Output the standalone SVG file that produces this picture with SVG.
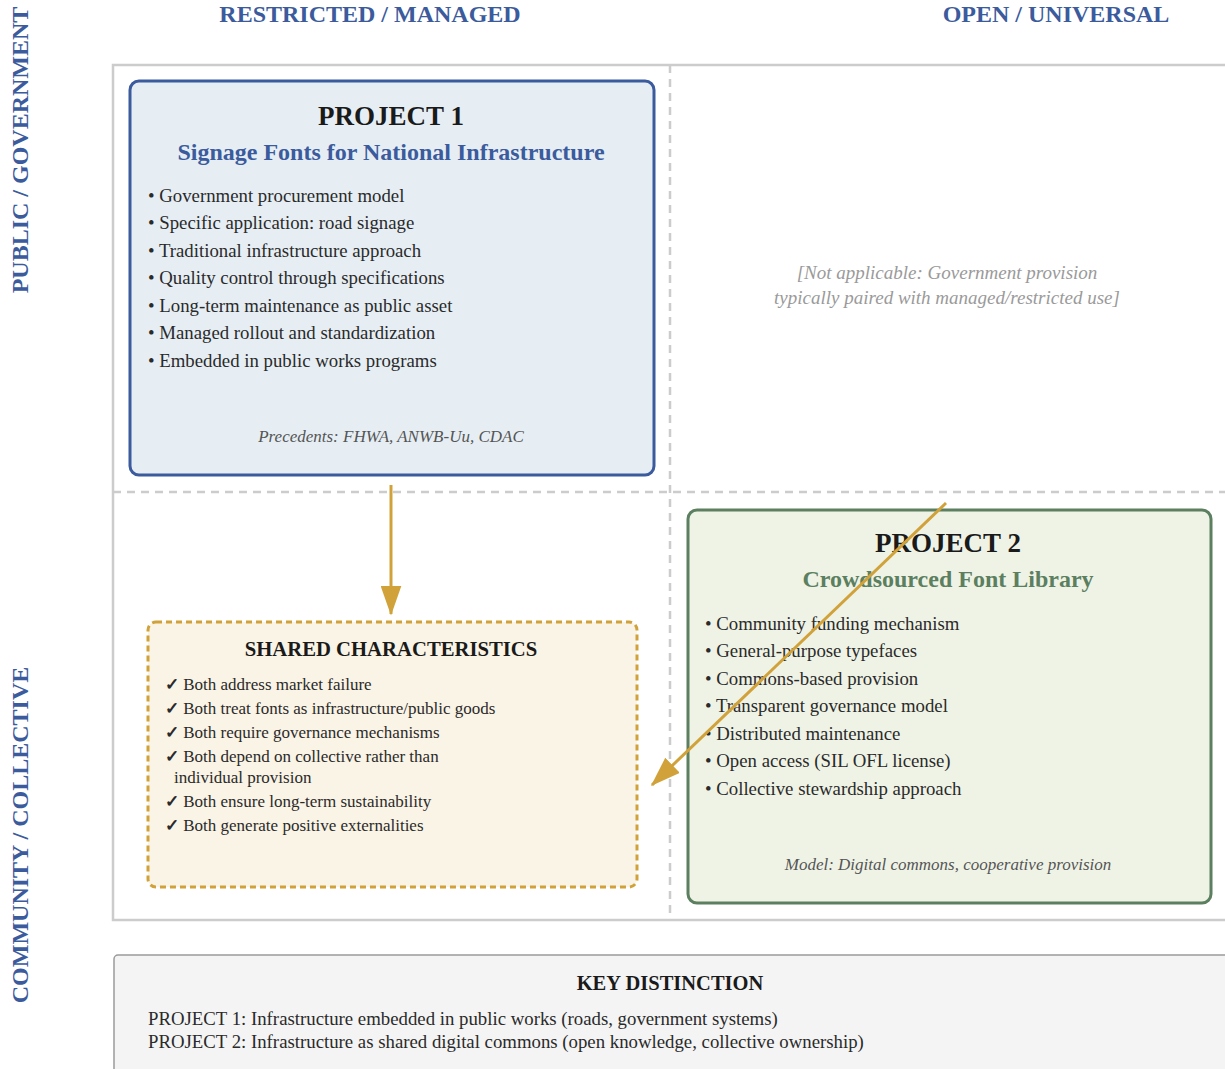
<svg xmlns="http://www.w3.org/2000/svg" width="1225" height="1069" viewBox="0 0 1225 1069">
<style>
text{font-family:"Liberation Serif","Times New Roman",serif}
.axis{font-size:24px;font-weight:bold;fill:#3b5b9d}
.title{font-size:27px;font-weight:bold;fill:#1a1a1a;text-anchor:middle}
.sub1{font-size:24px;font-weight:bold;fill:#3b5b9d;text-anchor:middle}
.sub2{font-size:24px;font-weight:bold;fill:#5b7f5f;text-anchor:middle}
.item{font-size:18.8px;fill:#2a2a2a}
.note{font-size:17px;font-style:italic;fill:#555;text-anchor:middle}
.na{font-size:19px;font-style:italic;fill:#9a9a9a;text-anchor:middle}
.chk{font-size:17px;fill:#2a2a2a}
.mk{font-weight:bold}
.grid{stroke:#cccccc;stroke-width:2.5;stroke-dasharray:8 6;fill:none}
.conn{stroke:#d1a23a;stroke-width:3;fill:none}
</style>
<defs>
<marker id="ah" viewBox="0 0 10 7" refX="9.5" refY="3.5" markerWidth="10" markerHeight="7" markerUnits="strokeWidth" orient="auto">
<path d="M0,0 L10,3.5 L0,7 Z" fill="#d1a23a"/>
</marker>
</defs>
<rect width="1225" height="1069" fill="#ffffff"/>
<g id="axes">
<text class="axis" x="370" y="22" text-anchor="middle">RESTRICTED / MANAGED</text>
<text class="axis" x="1056" y="22" text-anchor="middle">OPEN / UNIVERSAL</text>
<text class="axis" transform="translate(28,150) rotate(-90)" text-anchor="middle">PUBLIC / GOVERNMENT</text>
<text class="axis" transform="translate(28,835) rotate(-90)" text-anchor="middle">COMMUNITY / COLLECTIVE</text>
</g>
<g id="frame">
<rect x="113" y="65" width="1130" height="855" fill="none" stroke="#cccccc" stroke-width="2.5"/>
<line class="grid" x1="670" y1="65" x2="670" y2="920"/>
<line class="grid" x1="113" y1="492" x2="1225" y2="492"/>
</g>
<g id="project1">
<rect x="130" y="81" width="524" height="394" rx="9" fill="#e6eef4" stroke="#3b5b9d" stroke-width="3"/>
<text class="title" x="391" y="125">PROJECT 1</text>
<text class="sub1" x="391" y="160">Signage Fonts for National Infrastructure</text>
<text class="item" x="148" y="202">• Government procurement model</text>
<text class="item" x="148" y="229">• Specific application: road signage</text>
<text class="item" x="148" y="257">• Traditional infrastructure approach</text>
<text class="item" x="148" y="284">• Quality control through specifications</text>
<text class="item" x="148" y="312">• Long-term maintenance as public asset</text>
<text class="item" x="148" y="339">• Managed rollout and standardization</text>
<text class="item" x="148" y="367">• Embedded in public works programs</text>
<text class="note" x="391" y="442">Precedents: FHWA, ANWB-Uu, CDAC</text>
</g>
<g id="not-applicable">
<text class="na" x="947" y="279">[Not applicable: Government provision</text>
<text class="na" x="947" y="304">typically paired with managed/restricted use]</text>
</g>
<g id="shared">
<rect x="148" y="622" width="489" height="265" rx="8" fill="#faf4e6" stroke="#d1a23a" stroke-width="3" stroke-dasharray="6 4"/>
<text x="391" y="656" text-anchor="middle" style="font-size:20.7px;font-weight:bold;fill:#1a1a1a">SHARED CHARACTERISTICS</text>
<text class="chk" x="165" y="690"><tspan class="mk">✓</tspan> Both address market failure</text>
<text class="chk" x="165" y="714"><tspan class="mk">✓</tspan> Both treat fonts as infrastructure/public goods</text>
<text class="chk" x="165" y="738"><tspan class="mk">✓</tspan> Both require governance mechanisms</text>
<text class="chk" x="165" y="762"><tspan class="mk">✓</tspan> Both depend on collective rather than</text>
<text class="chk" x="174" y="783">individual provision</text>
<text class="chk" x="165" y="807"><tspan class="mk">✓</tspan> Both ensure long-term sustainability</text>
<text class="chk" x="165" y="831"><tspan class="mk">✓</tspan> Both generate positive externalities</text>
</g>
<g id="project2">
<rect x="688" y="510" width="523" height="393" rx="9" fill="#eff3e6" stroke="#5b7f5f" stroke-width="3"/>
<text class="title" x="948" y="552">PROJECT 2</text>
<text class="sub2" x="948" y="587">Crowdsourced Font Library</text>
<text class="item" x="705" y="630">• Community funding mechanism</text>
<text class="item" x="705" y="657">• General-purpose typefaces</text>
<text class="item" x="705" y="685">• Commons-based provision</text>
<text class="item" x="705" y="712">• Transparent governance model</text>
<text class="item" x="705" y="740">• Distributed maintenance</text>
<text class="item" x="705" y="767">• Open access (SIL OFL license)</text>
<text class="item" x="705" y="795">• Collective stewardship approach</text>
<text class="note" x="948" y="870">Model: Digital commons, cooperative provision</text>
</g>
<g id="connectors">
<line class="conn" x1="391" y1="485" x2="391" y2="614" marker-end="url(#ah)"/>
<line class="conn" x1="946" y1="503" x2="652" y2="785" marker-end="url(#ah)"/>
</g>
<g id="key">
<rect x="114" y="955" width="1130" height="130" rx="4" fill="#f4f4f4" stroke="#9a9a9a" stroke-width="1.5"/>
<text x="670" y="990" text-anchor="middle" style="font-size:20.5px;font-weight:bold;fill:#1a1a1a">KEY DISTINCTION</text>
<text x="148" y="1025" style="font-size:18.8px;fill:#2a2a2a">PROJECT 1: Infrastructure embedded in public works (roads, government systems)</text>
<text x="148" y="1048" style="font-size:18.8px;fill:#2a2a2a">PROJECT 2: Infrastructure as shared digital commons (open knowledge, collective ownership)</text>
</g>
</svg>
